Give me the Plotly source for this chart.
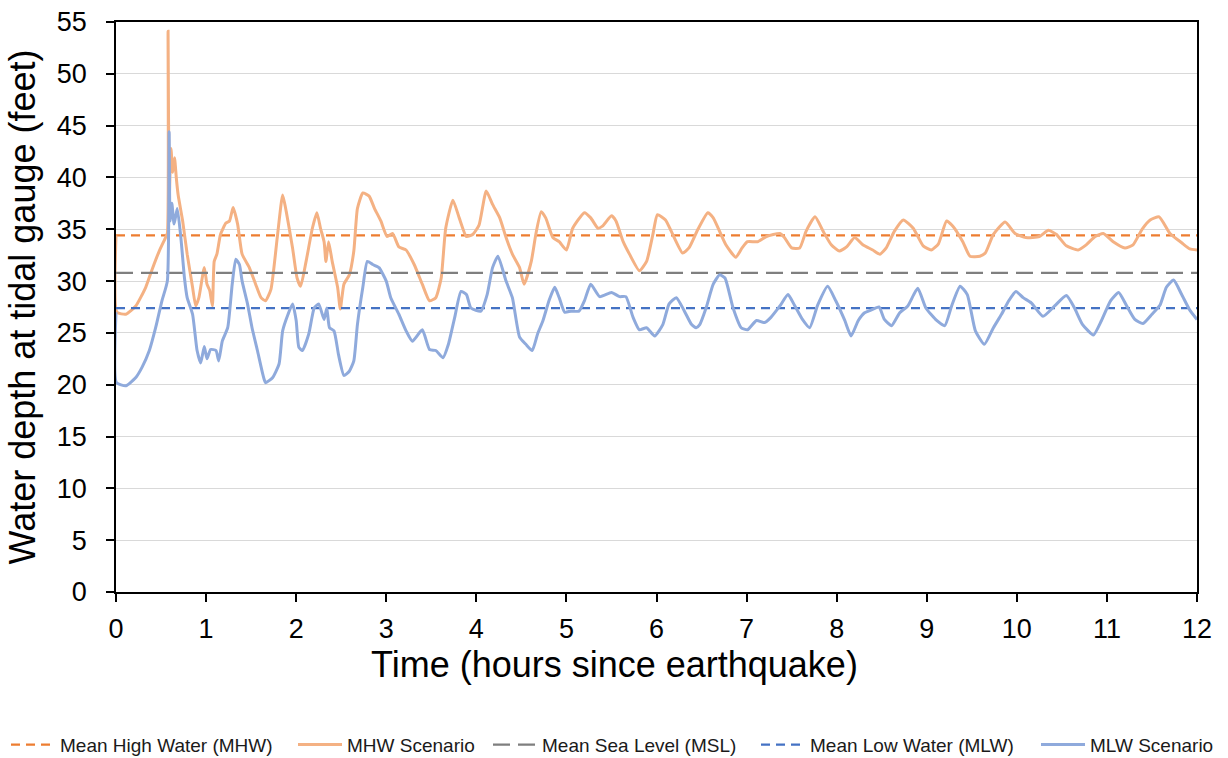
import plotly.graph_objects as go

# ---- data ----
MHW_LEVEL = 34.4
MSL_LEVEL = 30.8
MLW_LEVEL = 27.4
X_RANGE = [0, 12]

mhw_t = [0.0, 0.01, 0.11, 0.22, 0.33, 0.40, 0.48, 0.55, 0.57, 0.578, 0.59, 0.61, 0.63, 0.65, 0.67, 0.69,
         0.74, 0.79, 0.85, 0.885, 0.92, 0.98, 1.01, 1.04, 1.07, 1.09, 1.12, 1.16, 1.22, 1.26, 1.30, 1.35,
         1.40, 1.48, 1.55, 1.61, 1.66, 1.72, 1.79, 1.85, 1.89, 1.96, 2.01, 2.05, 2.11, 2.18, 2.23, 2.27,
         2.31, 2.33, 2.36, 2.40, 2.46, 2.49, 2.53, 2.59, 2.64, 2.68, 2.74, 2.81, 2.87, 2.94, 3.01, 3.07,
         3.14, 3.22, 3.31, 3.40, 3.48, 3.55, 3.61, 3.66, 3.74, 3.81, 3.89, 3.96, 4.03, 4.11, 4.18, 4.26,
         4.33, 4.40, 4.48, 4.53, 4.61, 4.66, 4.72, 4.77, 4.85, 4.92, 5.00, 5.07, 5.20, 5.27, 5.35, 5.40,
         5.50, 5.55, 5.63, 5.70, 5.81, 5.89, 5.96, 6.01, 6.10, 6.18, 6.29, 6.36, 6.46, 6.57, 6.63, 6.77,
         6.88, 6.95, 7.01, 7.12, 7.22, 7.37, 7.42, 7.50, 7.59, 7.66, 7.76, 7.85, 7.94, 8.03, 8.11, 8.20,
         8.29, 8.40, 8.48, 8.55, 8.64, 8.74, 8.85, 8.96, 9.05, 9.13, 9.22, 9.29, 9.40, 9.48, 9.59, 9.65,
         9.74, 9.87, 9.98, 10.10, 10.25, 10.35, 10.44, 10.55, 10.68, 10.77, 10.87, 10.96, 11.07, 11.20,
         11.29, 11.39, 11.48, 11.58, 11.70, 11.83, 11.92, 12.0]
mhw_v = [34.4, 27.0, 26.8, 27.6, 29.4, 31.1, 32.9, 34.2, 34.6, 54.1, 37.7, 42.8, 40.5, 41.9, 39.9, 38.3,
         35.8, 32.6, 29.4, 27.6, 28.4, 31.3, 29.7, 29.1, 27.6, 31.9, 32.6, 34.5, 35.6, 35.8, 37.1, 35.5,
         32.6, 31.3, 29.7, 28.4, 28.1, 29.2, 34.2, 38.3, 36.7, 33.2, 30.3, 29.5, 31.9, 35.1, 36.6, 35.1,
         33.8, 31.9, 33.8, 31.9, 29.4, 27.3, 29.7, 30.6, 32.9, 37.0, 38.5, 38.2, 37.0, 35.8, 34.3, 34.6,
         33.3, 33.0, 31.6, 29.7, 28.1, 28.4, 30.3, 35.1, 37.8, 36.1, 34.3, 34.5, 35.4, 38.7, 37.4, 36.1,
         34.2, 32.6, 31.3, 29.7, 31.9, 34.5, 36.7, 36.1, 34.2, 33.8, 33.0, 35.1, 36.6, 36.1, 35.1, 35.3,
         36.3, 35.8, 33.8, 32.6, 31.0, 31.9, 34.5, 36.4, 35.9, 34.5, 32.7, 33.2, 35.0, 36.6, 36.1, 33.5,
         32.3, 33.2, 33.8, 33.8, 34.3, 34.6, 34.2, 33.2, 33.2, 34.8, 36.2, 34.8, 33.5, 32.9, 33.3, 34.2,
         33.5, 33.0, 32.6, 33.2, 34.8, 35.9, 35.1, 33.4, 33.0, 33.6, 35.8, 35.3, 33.8, 32.4, 32.4, 32.7,
         34.5, 35.7, 34.6, 34.2, 34.3, 34.9, 34.5, 33.4, 33.0, 33.5, 34.3, 34.6, 33.8, 33.2,
         33.5, 35.0, 35.9, 36.2, 34.6, 33.7, 33.1, 33.0]

mlw_t = [0.0, 0.005, 0.11, 0.22, 0.29, 0.37, 0.44, 0.51, 0.57, 0.59, 0.60, 0.62, 0.645, 0.68, 0.72, 0.76,
         0.79, 0.85, 0.90, 0.94, 0.98, 1.01, 1.05, 1.11, 1.14, 1.18, 1.24, 1.29, 1.33, 1.37, 1.40, 1.46,
         1.51, 1.57, 1.63, 1.66, 1.74, 1.81, 1.85, 1.91, 1.96, 2.00, 2.03, 2.07, 2.14, 2.20, 2.25, 2.31,
         2.34, 2.37, 2.42, 2.47, 2.53, 2.59, 2.64, 2.68, 2.74, 2.79, 2.85, 2.92, 3.00, 3.05, 3.14, 3.22,
         3.29, 3.40, 3.48, 3.55, 3.63, 3.69, 3.76, 3.83, 3.89, 3.94, 4.05, 4.12, 4.18, 4.24, 4.33, 4.40,
         4.48, 4.55, 4.62, 4.68, 4.74, 4.81, 4.87, 4.92, 4.98, 5.05, 5.14, 5.20, 5.27, 5.37, 5.50, 5.59,
         5.66, 5.74, 5.81, 5.89, 5.98, 6.07, 6.14, 6.22, 6.31, 6.39, 6.44, 6.48, 6.55, 6.63, 6.70, 6.76,
         6.85, 6.94, 7.01, 7.11, 7.20, 7.27, 7.37, 7.46, 7.53, 7.62, 7.70, 7.79, 7.90, 7.99, 8.09, 8.16,
         8.24, 8.31, 8.38, 8.47, 8.53, 8.61, 8.70, 8.79, 8.90, 8.99, 9.11, 9.20, 9.28, 9.37, 9.45, 9.54,
         9.64, 9.74, 9.83, 9.91, 9.99, 10.07, 10.16, 10.29, 10.42, 10.55, 10.64, 10.73, 10.85, 10.94,
         11.04, 11.13, 11.22, 11.31, 11.40, 11.50, 11.59, 11.66, 11.74, 11.83, 11.92, 12.0]
mlw_v = [27.0, 20.2, 19.9, 20.7, 21.7, 23.3, 25.5, 28.1, 30.0, 44.4, 35.8, 37.5, 35.5, 37.0, 34.2, 30.3,
         28.4, 26.8, 23.3, 22.1, 23.7, 22.5, 23.4, 23.3, 22.3, 24.2, 25.5, 29.7, 32.1, 31.6, 30.0, 27.8,
         25.5, 23.3, 21.0, 20.2, 20.7, 22.0, 25.2, 26.8, 27.8, 26.2, 23.6, 23.3, 24.9, 27.4, 27.8, 26.3,
         27.4, 25.5, 25.2, 22.9, 20.9, 21.3, 22.3, 25.8, 29.4, 31.9, 31.6, 31.3, 30.0, 28.4, 26.8, 25.2,
         24.2, 25.3, 23.4, 23.3, 22.6, 23.9, 26.5, 29.0, 28.7, 27.4, 27.1, 28.7, 31.3, 32.4, 30.0, 28.4,
         24.6, 23.9, 23.3, 24.9, 26.2, 28.2, 29.4, 28.4, 27.0, 27.1, 27.1, 28.1, 29.7, 28.5, 28.9, 28.5,
         28.5, 26.5, 25.3, 25.5, 24.7, 25.8, 27.8, 28.4, 27.1, 25.8, 25.5, 25.8, 27.4, 29.7, 30.6, 30.3,
         27.4, 25.5, 25.3, 26.2, 26.0, 26.5, 27.6, 28.7, 27.7, 26.3, 25.5, 27.7, 29.5, 28.1, 26.2, 24.7,
         26.2, 26.95, 27.2, 27.5, 26.3, 25.7, 26.95, 27.6, 29.3, 27.4, 26.2, 25.7, 27.7, 29.5, 28.7, 25.2,
         23.9, 25.5, 26.8, 28.1, 29.0, 28.4, 27.9, 26.6, 27.6, 28.6, 27.4, 25.8, 24.8, 26.2,
         28.1, 28.9, 27.6, 26.3, 25.9, 26.8, 27.7, 29.4, 30.1, 28.7, 27.2, 26.3]

y_ticks = list(range(0, 56, 5))
x_ticks = list(range(0, 13, 1))
x_title = "Time (hours since earthquake)"
y_title = "Water depth at tidal gauge (feet)"

FONT = "Liberation Sans, Arial, sans-serif"
PLOT_L, PLOT_W = 116, 1081

fig = go.Figure()
fig.add_trace(go.Scatter(x=X_RANGE, y=[MHW_LEVEL] * 2, mode="lines", name="Mean High Water (MHW)",
                         legend="legend",
                         line=dict(color="#ED7D31", width=2.25, dash="9px,6px")))
fig.add_trace(go.Scatter(x=mhw_t, y=mhw_v, mode="lines", name="MHW Scenario", legend="legend2",
                         line=dict(color="#F4B183", width=3, shape="spline", smoothing=0.5)))
fig.add_trace(go.Scatter(x=X_RANGE, y=[MSL_LEVEL] * 2, mode="lines", name="Mean Sea Level (MSL)",
                         legend="legend3",
                         line=dict(color="#7F7F7F", width=2.25, dash="17px,8px")))
fig.add_trace(go.Scatter(x=X_RANGE, y=[MLW_LEVEL] * 2, mode="lines", name="Mean Low Water (MLW)",
                         legend="legend4",
                         line=dict(color="#4472C4", width=2.25, dash="9px,6px")))
fig.add_trace(go.Scatter(x=mlw_t, y=mlw_v, mode="lines", name="MLW Scenario", legend="legend5",
                         line=dict(color="#8FAADC", width=3, shape="spline", smoothing=0.5)))

# legend entries placed along the bottom like the original (pixel left edge of each entry)
legend_left_px = [6, 293, 488, 756, 1036]
legend_cfg = {}
for i, px in enumerate(legend_left_px):
    key = "legend" if i == 0 else f"legend{i + 1}"
    legend_cfg[key] = dict(orientation="h", x=(px - PLOT_L) / PLOT_W, xanchor="left",
                           y=-0.268, yanchor="middle", itemwidth=44,
                           font=dict(size=19, family=FONT, color="#1a1a1a"),
                           bgcolor="rgba(0,0,0,0)")

fig.update_layout(
    width=1228, height=758,
    margin=dict(l=PLOT_L, r=31, t=22, b=166, autoexpand=False),
    paper_bgcolor="white", plot_bgcolor="white",
    font=dict(family=FONT, color="black"),
    showlegend=True,
    annotations=[dict(text=x_title, xref="paper", yref="paper", x=(614 - PLOT_L) / PLOT_W, y=-0.128,
                      xanchor="center", yanchor="middle", showarrow=False,
                      font=dict(size=36, family=FONT, color="black"))],
    **legend_cfg,
)
fig.update_xaxes(range=X_RANGE, tickvals=x_ticks, showgrid=False, zeroline=False,
                 showline=True, linecolor="black", linewidth=1.5, mirror=True,
                 ticks="outside", ticklen=8, tickwidth=1.5, tickcolor="black",
                 ticklabelstandoff=4,
                 tickfont=dict(size=27, family=FONT, color="black"))
fig.update_yaxes(range=[0, 55], tickvals=y_ticks, showgrid=True, gridcolor="#D9D9D9", gridwidth=1.25,
                 zeroline=False, showline=True, linecolor="black", linewidth=1.5, mirror=True,
                 ticks="outside", ticklen=8, tickwidth=1.5, tickcolor="black",
                 ticklabelstandoff=14,
                 tickfont=dict(size=27, family=FONT, color="black"),
                 title=dict(text=y_title, font=dict(size=36, family=FONT, color="black"),
                            standoff=10))

fig.write_html("out.html")
